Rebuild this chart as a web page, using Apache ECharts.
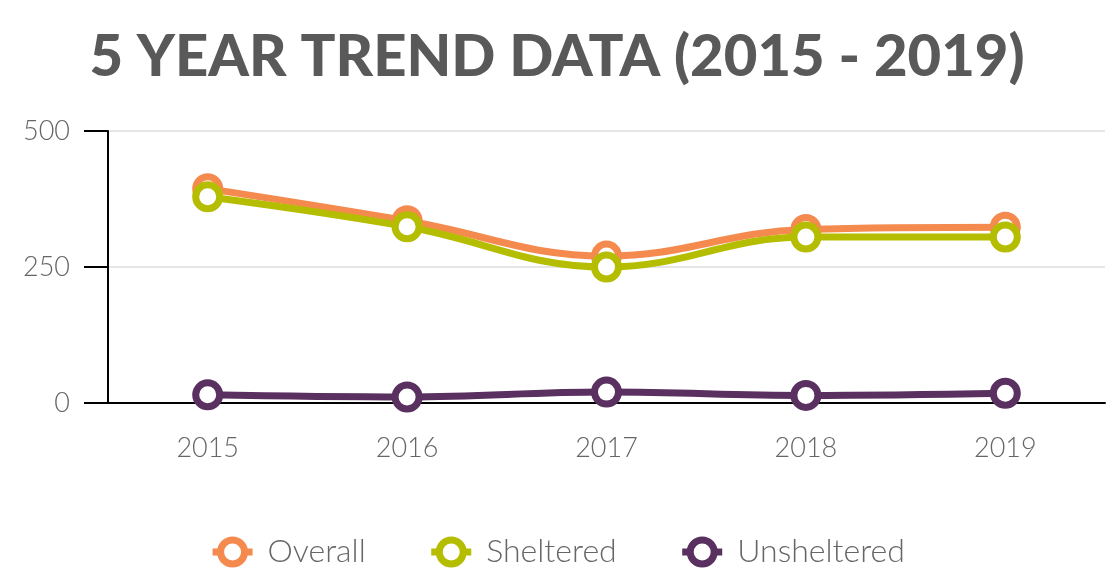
<!DOCTYPE html>
<html>
<head>
<meta charset="utf-8">
<script src="https://cdn.jsdelivr.net/npm/echarts@6/dist/echarts.min.js"></script>
<style>
  html, body { margin: 0; padding: 0; background: #fff; }
  #main { width: 1114px; height: 587px; }
</style>
</head>
<body>
<div id="main"></div>
<script type="text/javascript">
    var years = ['2015', '2016', '2017', '2018', '2019'];
    var overall = [394, 335, 270, 319, 323];
    var sheltered = [379, 324, 250, 305, 305];
    var unsheltered = [15, 11, 20, 14, 18];

    function line(name, data, color) {
        return {
            name: name,
            type: 'line',
            data: data,
            smooth: 0.4,
            symbol: 'circle',
            symbolSize: 24,
            lineStyle: { color: color, width: 7 },
            itemStyle: { color: '#fff', borderColor: color, borderWidth: 7 },
            emphasis: { disabled: true }
        };
    }

    var myChart = echarts.init(document.getElementById('main'));
    myChart.setOption({
        animation: false,
        title: {
            text: '5 YEAR TREND DATA (2015 - 2019)',
            left: 'center',
            top: 23,
            textStyle: { fontFamily: 'Lato', fontWeight: 900, fontSize: 58, color: '#595959' }
        },
        legend: {
            bottom: 14,
            left: 'center',
            itemGap: 62,
            itemWidth: 40,
            itemHeight: 30,
            lineStyle: { width: 7 },
            itemStyle: { borderWidth: 7 },
            textStyle: { fontFamily: 'Lato', fontWeight: 300, fontSize: 32, color: '#666', padding: [0, 0, 0, 10] },
            data: ['Overall', 'Sheltered', 'Unsheltered']
        },
        grid: { left: 108, right: 9, top: 131, bottom: 184, containLabel: false },
        xAxis: {
            type: 'category',
            data: years,
            boundaryGap: true,
            axisLine: { lineStyle: { color: '#000', width: 2 } },
            axisTick: { alignWithLabel: true, length: 24, lineStyle: { color: '#000', width: 2 } },
            axisLabel: { margin: 32, fontFamily: 'Lato', fontWeight: 300, fontSize: 27, color: '#666' }
        },
        yAxis: {
            type: 'value',
            min: 0,
            max: 500,
            interval: 250,
            axisLine: { show: true, lineStyle: { color: '#000', width: 2 } },
            axisTick: { show: true, length: 24, lineStyle: { color: '#000', width: 2 } },
            axisLabel: { margin: 38, fontFamily: 'Lato', fontWeight: 300, fontSize: 27, color: '#666', padding: [12, 0, 0, 0] },
            splitLine: { lineStyle: { color: '#e6e6e6', width: 2 } }
        },
        series: [
            line('Overall', overall, '#F58A4F'),
            line('Sheltered', sheltered, '#B5BD00'),
            line('Unsheltered', unsheltered, '#59305F')
        ]
    });
</script>
</body>
</html>
